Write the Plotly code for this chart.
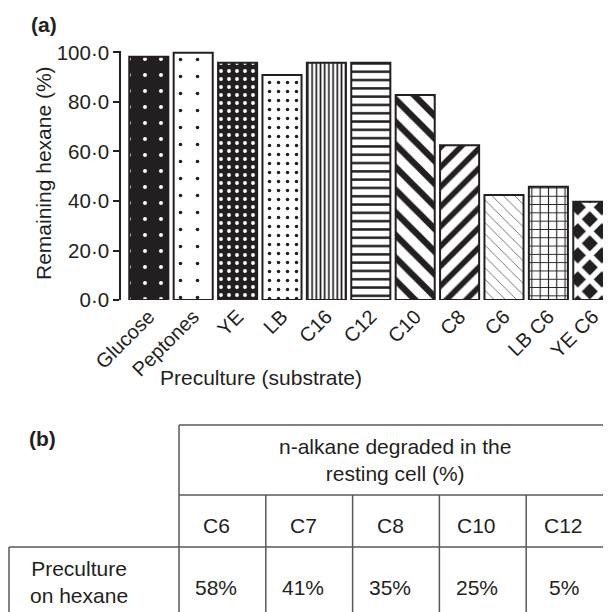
import plotly.graph_objects as go

# ---- data ----
categories = ["Glucose", "Peptones", "YE", "LB", "C16", "C12", "C10", "C8", "C6", "LB C6", "YE C6"]
remaining_hexane = [98.3, 99.9, 95.9, 90.9, 95.9, 95.9, 82.8, 62.5, 42.4, 45.8, 39.7]
y_tick_values = [0, 20, 40, 60, 80, 100]
y_tick_labels = ["0·0", "20·0", "40·0", "60·0", "80·0", "100·0"]

table_header = "n-alkane degraded in the<br>resting cell (%)"
table_columns = ["C6", "C7", "C8", "C10", "C12"]
table_row_label = "Preculture<br>on hexane"
table_values = ["58%", "41%", "35%", "25%", "5%"]

# ---- styling ----
# the page body adds an 8px margin, so the figure is sized to fill the rest of the window
OFF = 8
W, H = 611 - OFF, 612 - OFF
FONT = "Liberation Sans, Arial, sans-serif"
TXT = "#231f20"
FS = 21

def px(x):
    return (x - OFF) / W

def py(y):
    return 1 - (y - OFF) / H

patterns = [
    dict(shape=".", bgcolor="#231f20", fgcolor="white", size=16, solidity=0.05),
    dict(shape=".", bgcolor="white", fgcolor="#231f20", size=17, solidity=0.035),
    dict(shape=".", bgcolor="#231f20", fgcolor="white", size=8, solidity=0.18),
    dict(shape=".", bgcolor="white", fgcolor="#231f20", size=9, solidity=0.12),
    dict(shape="|", bgcolor="white", fgcolor="#231f20", size=4.2, solidity=0.4),
    dict(shape="-", bgcolor="white", fgcolor="#231f20", size=8.3, solidity=0.3),
    dict(shape="\\", bgcolor="white", fgcolor="#231f20", size=16, solidity=0.4),
    dict(shape="/", bgcolor="white", fgcolor="#231f20", size=14, solidity=0.4),
    dict(shape="\\", bgcolor="white", fgcolor="#555555", size=8, solidity=0.1),
    dict(shape="+", bgcolor="white", fgcolor="#231f20", size=8.3, solidity=0.25),
    dict(shape="x", bgcolor="#231f20", fgcolor="white", size=17, solidity=0.55),
]

fig = go.Figure()
for cat, val, pat in zip(categories, remaining_hexane, patterns):
    fig.add_trace(go.Bar(
        x=[cat], y=[val],
        marker=dict(color="white", pattern=dict(fillmode="replace", **pat),
                    line=dict(color="#231f20", width=2)),
        showlegend=False,
    ))

x_left = 121
y_top_px, y_bot_px = 51, 300
fig.update_layout(
    width=W, height=H,
    margin=dict(l=0, r=0, t=0, b=0, autoexpand=False),
    paper_bgcolor="white", plot_bgcolor="white",
    barmode="overlay", bargap=0.12,
    font=dict(family=FONT, size=FS, color=TXT),
    xaxis=dict(domain=[px(x_left), 1], range=[-0.626, 10.41], automargin=False,
               categoryorder="array", categoryarray=categories,
               showline=False, ticks="", tickangle=-45, showgrid=False,
               tickfont=dict(size=20, color=TXT), zeroline=False),
    yaxis=dict(domain=[py(y_bot_px), py(y_top_px)], range=[0, 100.6], automargin=False,
               tickvals=y_tick_values, ticktext=y_tick_labels,
               showline=True, linecolor="#231f20", linewidth=1.5,
               ticks="outside", ticklen=6, tickwidth=1.5, tickcolor="#231f20",
               showgrid=False, zeroline=False,
               tickfont=dict(size=20.5, color=TXT)),
)

annotations = [
    dict(text="<b>(a)</b>", x=px(29), y=py(25), xanchor="left", yanchor="middle"),
    dict(text="Remaining hexane (%)", x=px(43), y=py(173), textangle=-90,
         xanchor="center", yanchor="middle"),
    dict(text="Preculture (substrate)", x=px(261), y=py(377),
         xanchor="center", yanchor="middle"),
    dict(text="<b>(b)</b>", x=px(27), y=py(438), xanchor="left", yanchor="middle"),
]

# ---- table (b) ----
LINE = dict(color="#58595b", width=1.5)
col_edges = [179 + i * 86.8 for i in range(len(table_columns) + 1)]
t_top, t_mid, t_sub, t_bot = 425, 495, 547, 614
left_edge = 9
right_end = 614
shapes = [
    dict(type="line", x0=px(179), x1=px(right_end), y0=py(t_top), y1=py(t_top)),
    dict(type="line", x0=px(179), x1=px(right_end), y0=py(t_mid), y1=py(t_mid)),
    dict(type="line", x0=px(left_edge), x1=px(right_end), y0=py(t_sub), y1=py(t_sub)),
    dict(type="line", x0=px(179), x1=px(179), y0=py(t_top), y1=py(t_bot)),
    dict(type="line", x0=px(left_edge), x1=px(left_edge), y0=py(t_sub), y1=py(t_bot)),
]
for xe in col_edges[1:-1]:
    shapes.append(dict(type="line", x0=px(xe), x1=px(xe), y0=py(t_mid), y1=py(t_bot)))
for s in shapes:
    s.update(xref="paper", yref="paper", line=LINE)

annotations.append(dict(text=table_header, x=px((179 + col_edges[-1]) / 2 - 1), y=py(460),
                        xanchor="center", yanchor="middle"))
for i, (c, v) in enumerate(zip(table_columns, table_values)):
    cx = (col_edges[i] + col_edges[i + 1]) / 2 - 6
    annotations.append(dict(text=c, x=px(cx), y=py(525), xanchor="center", yanchor="middle"))
    annotations.append(dict(text=v, x=px(cx), y=py(587), xanchor="center", yanchor="middle"))
annotations.append(dict(text=table_row_label, x=px(79), y=py(582), xanchor="center",
                        yanchor="middle"))

for a in annotations:
    a.update(xref="paper", yref="paper", showarrow=False,
             font=dict(family=FONT, color=TXT, size=FS))

fig.update_layout(shapes=shapes, annotations=annotations)
fig.write_html("out.html")
